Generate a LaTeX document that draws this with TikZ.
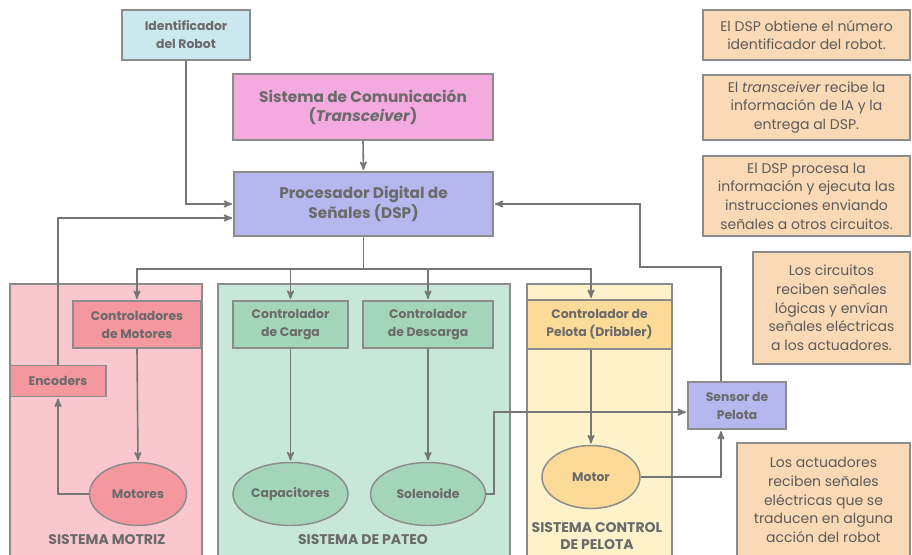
\documentclass[tikz,border=0pt]{standalone}
\usepackage{fontspec}
\setmainfont{Poppins}
\usepackage{tikz}
\usetikzlibrary{arrows,shapes.geometric}

\definecolor{linegray}{HTML}{767676}
\definecolor{boxgray}{HTML}{8C8C8C}
\definecolor{labelgray}{HTML}{6A6A6A}
\definecolor{notegray}{HTML}{5E5A58}
\definecolor{cyanfill}{HTML}{CBE8EF}
\definecolor{pinkfill}{HTML}{F3AADF}
\definecolor{dspfill}{HTML}{B5B7EE}
\definecolor{redfill}{HTML}{F4979F}
\definecolor{redgroup}{HTML}{F9C7CD}
\definecolor{greenfill}{HTML}{A4D5BA}
\definecolor{greengroup}{HTML}{C7E8D8}
\definecolor{yellowfill}{HTML}{FCDA98}
\definecolor{yellowgroup}{HTML}{FDF2C9}
\definecolor{notefill}{HTML}{FADAB6}

\begin{document}
\begin{tikzpicture}[->,>=stealth',shorten >=1pt,x=0.75pt,y=-0.75pt,
				line width=1.2pt,draw=linegray,
				main node/.style={rectangle,draw=boxgray,line width=1.1pt,text=labelgray,align=center,
					font=\bfseries\fontsize{9.3}{13.5}\selectfont,inner sep=1pt},
				act node/.style={ellipse,draw=boxgray,line width=1.1pt,text=labelgray,
					font=\bfseries\fontsize{9.3}{13.5}\selectfont,inner sep=0pt,inner xsep=-6pt},
				group node/.style={rectangle,draw=boxgray,line width=0.8pt,minimum height=204pt},
				group label/.style={text=labelgray,align=center,font=\bfseries\fontsize{10.5}{12.75}\selectfont},
				note node/.style={rectangle,draw=boxgray,line width=1.1pt,fill=notefill,text=notegray,
					align=center,font=\fontsize{10.5}{14}\selectfont,inner sep=1pt}]
				
				\useasboundingbox (0,0) rectangle (912,554);
				
				% subsystems
				\node[group node,fill=redgroup,minimum width=144pt] (motriz) at (106,420) {};
				\node[group node,fill=greengroup,minimum width=219pt] (pateo) at (364,420) {};
				\node[group node,fill=yellowgroup,minimum width=108.75pt] (pelota) at (599.5,420) {};
				\node[group label] (lmotriz) at (107,540) {SISTEMA MOTRIZ};
				\node[group label] (lpateo) at (363,540) {SISTEMA DE PATEO};
				\node[group label] (lpelota) at (597,536) {SISTEMA CONTROL\\DE PELOTA};
				
				% main blocks
				\node[main node,fill=cyanfill,minimum width=96pt,minimum height=37.5pt] (ident) at (186,35) {Identificador\\del Robot};
				\node[main node,fill=pinkfill,minimum width=195pt,minimum height=49.5pt,
					font=\bfseries\fontsize{11.5}{14.5}\selectfont] (com) at (363,107) {Sistema de Comunicación\\(\textit{Transceiver})};
				\node[main node,fill=dspfill,minimum width=194pt,minimum height=48pt,
					font=\bfseries\fontsize{11.5}{14.5}\selectfont] (dsp) at (363.5,204) {Procesador Digital de\\Señales (DSP)};
				
				\node[main node,fill=redfill,minimum width=96pt,minimum height=35.25pt] (cmot) at (137,324.5) {Controladores\\de Motores};
				\node[main node,fill=redfill,minimum width=72pt,minimum height=23.25pt] (enc) at (58,381) {Encoders};
				\node[act node,fill=redfill,minimum width=72.75pt,minimum height=47.25pt] (mot) at (138,494) {Motores};
				
				\node[main node,fill=greenfill,minimum width=86.25pt,minimum height=35.25pt] (ccar) at (290.5,324.5) {Controlador\\de Carga};
				\node[main node,fill=greenfill,minimum width=97.5pt,minimum height=35.25pt] (cdes) at (428,324.5) {Controlador\\de Descarga};
				\node[act node,fill=greenfill,minimum width=86.25pt,minimum height=47.25pt] (cap) at (290.5,494) {Capacitores};
				\node[act node,fill=greenfill,minimum width=86.25pt,minimum height=47.25pt] (sol) at (428,494) {Solenoide};
				
				\node[main node,fill=yellowfill,minimum width=108.75pt,minimum height=36.75pt] (cpel) at (599.5,324.5) {Controlador de\\Pelota (Dribbler)};
				\node[act node,fill=yellowfill,minimum width=73.5pt,minimum height=47.25pt] (motor) at (591,477) {Motor};
				
				\node[main node,fill=dspfill,minimum width=73.5pt,minimum height=35.25pt] (sens) at (737,405.5) {Sensor de\\Pelota};
				
				% notes
				\node[note node,minimum width=155.25pt,minimum height=37.5pt] (n1) at (806.5,35) {El DSP obtiene el número\\identificador del robot.};
				\node[note node,minimum width=155.25pt,minimum height=48.75pt] (n2) at (806.5,107.5) {El \textit{transceiver} recibe la\\información de IA y la\\entrega al DSP.};
				\node[note node,minimum width=155.25pt,minimum height=60pt] (n3) at (806.5,196) {El DSP procesa la\\información y ejecuta las\\instrucciones enviando\\señales a otros circuitos.};
				\node[note node,minimum width=117.75pt,minimum height=84pt] (n4) at (831.5,308) {Los circuitos\\reciben señales\\lógicas y envían\\señales eléctricas\\a los actuadores.};
				\node[note node,minimum width=129.75pt,minimum height=85.5pt] (n5) at (823.5,500) {Los actuadores\\reciben señales\\eléctricas que se\\traducen en alguna\\acción del robot};
				
				% connections
				\coordinate (turn) at (640,267);
				\draw (ident.south) |- (dsp.west);
				\draw (com.south) -- (dsp.north);
				\draw (enc.north) |- ([yshift=-10.5pt]dsp.west);
				\draw (dsp.south) -- ++(0,32) -| (cmot.north);
				\draw (dsp.south) -- ++(0,32) -| (ccar.north);
				\draw (dsp.south) -- ++(0,32) -| (cdes.north);
				\draw (dsp.south) -- ++(0,32) -| (cpel.north -| motor.north);
				\draw (cmot.south) -- (mot.north);
				\draw (mot.west) -| (enc.south);
				\draw (ccar.south) -- (cap.north);
				\draw (cdes.south) -- (sol.north);
				\draw (cpel.south -| motor.north) -- (motor.north);
				\draw (sol.east) -- ++(8,0) |- ([yshift=-5pt]sens.west);
				\draw (motor.east) -| ([xshift=-12pt]sens.south);
				\draw ([xshift=-12pt]sens.north) |- (turn) |- (dsp.east);
				
				\end{tikzpicture}
\end{document}
